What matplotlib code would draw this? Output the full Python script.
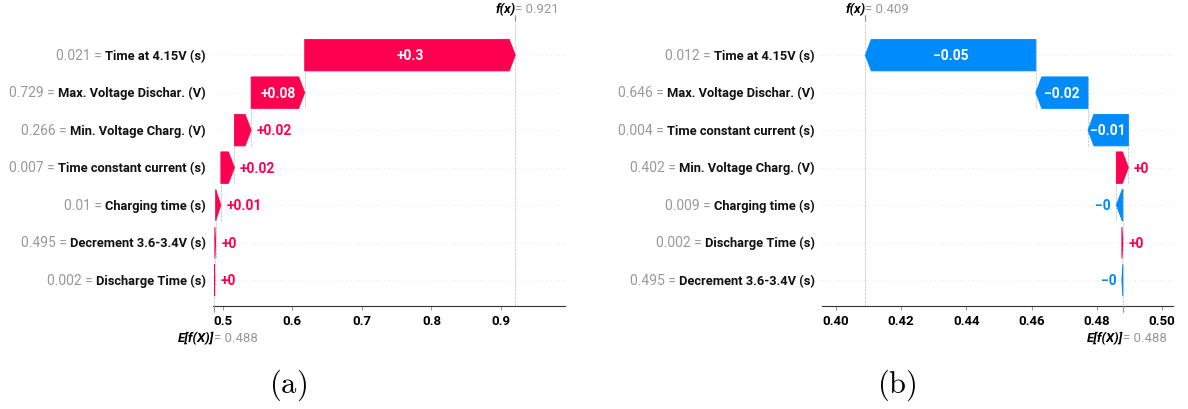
import matplotlib
matplotlib.use('Agg')
import matplotlib.pyplot as plt
from matplotlib.patches import Polygon
from matplotlib.ticker import FormatStrFormatter

plt.rcParams['font.family'] = ['Roboto', 'DejaVu Sans']
plt.rcParams['mathtext.fontset'] = 'cm'

POS = '#ff0051'
NEG = '#008bfb'
GRAY = '#999999'
BH = 0.42  # half bar height
FS = 10
FS_NAME = 9.3

# (a) sample with high prediction
names_a = ['Time at 4.15V (s)', 'Max. Voltage Dischar. (V)', 'Min. Voltage Charg. (V)',
           'Time constant current (s)', 'Charging time (s)', 'Decrement 3.6-3.4V (s)',
           'Discharge Time (s)']
feat_a = ['0.021', '0.729', '0.266', '0.007', '0.01', '0.495', '0.002']
shap_a = [0.3027, 0.077, 0.024, 0.0195, 0.0075, 0.0012, 0.0006]
base_a = 0.488
xlim_a = (0.486, 0.992)
ticks_a = [0.5, 0.6, 0.7, 0.8, 0.9]

# (b) sample with low prediction
names_b = ['Time at 4.15V (s)', 'Max. Voltage Dischar. (V)', 'Time constant current (s)',
           'Min. Voltage Charg. (V)', 'Charging time (s)', 'Discharge Time (s)',
           'Decrement 3.6-3.4V (s)']
feat_b = ['0.012', '0.646', '0.004', '0.402', '0.009', '0.002', '0.495']
shap_b = [-0.0523, -0.016, -0.0124, 0.0037, -0.002, 0.0003, -0.0003]
base_b = 0.488
xlim_b = (0.3957, 0.5034)
ticks_b = [0.40, 0.42, 0.44, 0.46, 0.48, 0.50]


def fmt(v):
    s = ('%+0.02f' % v).rstrip('0').rstrip('.')
    return s.replace('-', '\u2212')


def waterfall(ax, names, feats, vals, base, xlim, ticks, tickfmt):
    n = len(vals)
    fx = base + sum(vals)
    ax.set_xlim(*xlim)
    ax.set_ylim(-0.69, n - 1 + 0.91)
    span = xlim[1] - xlim[0]

    for y in range(n):
        ax.axhline(y, color='#cccccc', lw=0.5, dashes=(1, 5), zorder=-1)
    ax.axvline(fx, color='#bbbbbb', ls='--', lw=0.5, zorder=-1)
    ax.plot([base, base], [ax.get_ylim()[0], BH], color='#bbbbbb', ls='--', lw=0.5, zorder=-1)

    cum = base
    for i in range(n - 1, -1, -1):
        y = n - 1 - i
        v = vals[i]
        x0, x1 = cum, cum + v
        cum = x1
        s = 1 if v > 0 else -1
        hl = min(abs(v), 0.017 * span)
        color = POS if v > 0 else NEG
        pts = [(x0, y - BH), (x1 - s * hl, y - BH), (x1, y), (x1 - s * hl, y + BH), (x0, y + BH)]
        ax.add_patch(Polygon(pts, closed=True, facecolor=color, edgecolor=color, lw=0.6))
        if abs(v) > 0.08 * span:
            ax.text((x0 + x1) / 2, y, fmt(v), ha='center', va='center', color='white',
                    fontsize=FS, fontweight='bold')
        else:
            ax.annotate(fmt(v), (max(x0, x1) if s > 0 else min(x0, x1), y), xytext=(4 * s, 0),
                        textcoords='offset points', ha='left' if s > 0 else 'right',
                        va='center', color=color, fontsize=FS, fontweight='bold')
        if i > 0:
            ax.plot([x1, x1], [y - BH, y + 1 + BH], color='#bbbbbb', ls='--', lw=0.5, zorder=-1)

        name = ax.annotate(names[i], (0, y), xycoords=('axes fraction', 'data'), xytext=(-5, 0),
                           textcoords='offset points', ha='right', va='center',
                           fontsize=FS_NAME, fontweight='bold', color='#111111')
        ax.annotate(feats[i] + ' = ', (0, 0), xycoords=name, ha='right', va='bottom',
                    fontsize=FS, color=GRAY)

    for side in ['top', 'left', 'right']:
        ax.spines[side].set_visible(False)
    ax.spines['bottom'].set_color('#333333')
    ax.set_yticks([])
    ax.set_xticks(ticks)
    ax.xaxis.set_major_formatter(FormatStrFormatter(tickfmt))
    ax.tick_params(axis='x', length=3, color='#999999', labelsize=9.5, pad=3)
    for lab in ax.get_xticklabels():
        lab.set_fontweight('bold')

    # f(x) marker on top, E[f(X)] marker under the tick labels
    for where, xval, label, pad in [('top', fx, 'f(x)', 0), ('bottom', base, 'E[f(X)]', 14)]:
        tw = ax.twiny()
        tw.set_xlim(*xlim)
        for sp in tw.spines.values():
            sp.set_visible(False)
        tw.xaxis.set_ticks_position(where)
        tw.set_xticks([xval, xval + 1e-8])
        tw.set_xticklabels([label, '= %0.3f' % xval])
        tw.tick_params(axis='x', length=4, color='#999999', labelsize=9.5, pad=pad)
        l0, l1 = tw.get_xticklabels()
        l0.set_ha('right')
        l0.set_fontweight('bold')
        l0.set_fontstyle('italic')
        l1.set_ha('left')
        l1.set_color(GRAY)


fig = plt.figure(figsize=(11.88, 4.10), dpi=100)
ax_a = fig.add_axes([0.1793, 0.2512, 0.2963, 0.6951])
ax_b = fig.add_axes([0.6919, 0.2512, 0.2955, 0.6951])
waterfall(ax_a, names_a, feat_a, shap_a, base_a, xlim_a, ticks_a, '%.1f')
waterfall(ax_b, names_b, feat_b, shap_b, base_b, xlim_b, ticks_b, '%.2f')

fig.text(0.2424, 0.061, r'$\mathrm{(a)}$', fontsize=22, ha='center', va='center')
fig.text(0.7551, 0.061, r'$\mathrm{(b)}$', fontsize=22, ha='center', va='center')

fig.savefig('out.png', dpi=100)
